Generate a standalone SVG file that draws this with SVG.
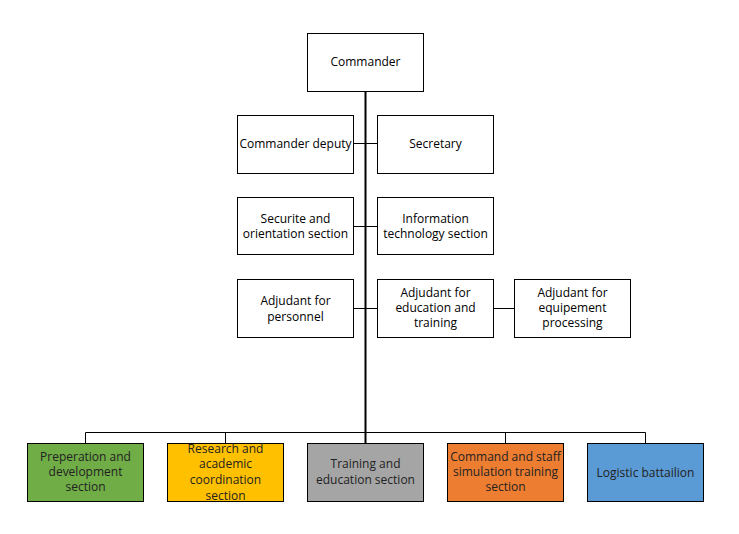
<svg xmlns="http://www.w3.org/2000/svg" width="739" height="534" viewBox="0 0 739 534">
<style>
.box{fill:#fff;stroke:#000;stroke-width:1}
.t{font-family:"Open Sans","Liberation Sans",sans-serif;font-size:12px;fill:#000;text-anchor:middle}
.d{fill:#222}
.c{stroke:#000;stroke-width:1;fill:none}
.trunk{stroke:#000;stroke-width:2;fill:none}
</style>
<rect width="739" height="534" fill="#fff"/>
<g id="connectors">
<path class="trunk" d="M365.5 91V443"/>
<path class="c" d="M353 143.5H377M353 226.5H377M353 308.5H377M493 308.5H514"/>
<path class="c" d="M85.5 443V432.5H645.5V443M225.5 432.5V443M505.5 432.5V443"/>
</g>
<g id="commander"><rect class="box" x="307.5" y="33.5" width="116" height="58"/><text class="t" x="365.5" y="66">Commander</text></g>
<g id="deputy"><rect class="box" x="237.5" y="115.5" width="116" height="58"/><text class="t" x="295.5" y="148">Commander deputy</text></g>
<g id="secretary"><rect class="box" x="377.5" y="115.5" width="116" height="58"/><text class="t" x="435.5" y="148">Secretary</text></g>
<g id="securite"><rect class="box" x="237.5" y="197.5" width="116" height="57"/><text class="t" x="295.5" y="223">Securite and</text><text class="t" x="295.5" y="238">orientation section</text></g>
<g id="infotech"><rect class="box" x="377.5" y="197.5" width="116" height="57"/><text class="t" x="435.5" y="223">Information</text><text class="t" x="435.5" y="238">technology section</text></g>
<g id="personnel"><rect class="box" x="237.5" y="279.5" width="116" height="58"/><text class="t" x="295.5" y="305">Adjudant for</text><text class="t" x="295.5" y="321">personnel</text></g>
<g id="education"><rect class="box" x="377.5" y="279.5" width="116" height="58"/><text class="t" x="435.5" y="297">Adjudant for</text><text class="t" x="435.5" y="312">education and</text><text class="t" x="435.5" y="327">training</text></g>
<g id="equipement"><rect class="box" x="514.5" y="279.5" width="116" height="58"/><text class="t" x="572.5" y="297">Adjudant for</text><text class="t" x="572.5" y="312">equipement</text><text class="t" x="572.5" y="327">processing</text></g>
<g id="preperation"><rect class="box" style="fill:#70AD47" x="27.5" y="443.5" width="116" height="58"/><text class="t d" x="85.5" y="461">Preperation and</text><text class="t d" x="85.5" y="476">development</text><text class="t d" x="85.5" y="491">section</text></g>
<g id="research"><rect class="box" style="fill:#FFC000" x="167.5" y="443.5" width="116" height="58"/><text class="t d" x="225.5" y="453">Research and</text><text class="t d" x="225.5" y="468">academic</text><text class="t d" x="225.5" y="484">coordination</text><text class="t d" x="225.5" y="500">section</text></g>
<g id="training"><rect class="box" style="fill:#A5A5A5" x="307.5" y="443.5" width="116" height="58"/><text class="t d" x="365.5" y="468">Training and</text><text class="t d" x="365.5" y="484">education section</text></g>
<g id="simulation"><rect class="box" style="fill:#ED7D31" x="447.5" y="443.5" width="116" height="58"/><text class="t d" x="505.5" y="461">Command and staff</text><text class="t d" x="505.5" y="476">simulation training</text><text class="t d" x="505.5" y="491">section</text></g>
<g id="logistic"><rect class="box" style="fill:#5B9BD5" x="587.5" y="443.5" width="116" height="58"/><text class="t d" x="645.5" y="477">Logistic battailion</text></g>
</svg>
